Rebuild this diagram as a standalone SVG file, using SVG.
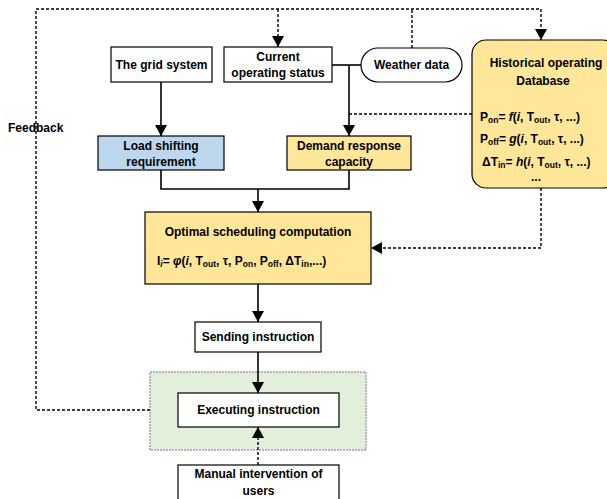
<svg xmlns="http://www.w3.org/2000/svg" width="607" height="499" viewBox="0 0 607 499">
<defs>
<marker id="arr" markerUnits="userSpaceOnUse" markerWidth="12" markerHeight="12" refX="11" refY="6" orient="auto"><path d="M0,0 L11,6 L0,12 z" fill="#000"/></marker>
<style>
text{font-family:"Liberation Sans",Arial,sans-serif;font-weight:bold;font-size:12px;fill:#000}
.c{text-anchor:middle}
.sub{font-size:8.5px}
.it{font-style:italic}
.box{stroke:#000;stroke-width:1.2}
.solid{fill:none;stroke:#000;stroke-width:1.6}
.dash{fill:none;stroke:#000;stroke-width:1.4;stroke-dasharray:3 2}
</style>
</defs>
<rect width="607" height="499" fill="#fff"/>
<g id="feedback-container">
<rect x="150" y="372" width="216" height="78" fill="#E2EFDA" stroke="#777" stroke-width="1" stroke-dasharray="2 1"/>
</g>
<g id="connectors">
<path class="dash" d="M150,410 H36 V9 H541 V40" marker-end="url(#arr)"/>
<path class="dash" d="M278,9 V47" marker-end="url(#arr)"/>
<path class="dash" d="M412,48 V9"/>
<path class="dash" d="M472,114 H349"/>
<path class="dash" d="M541,188 V248 H371" marker-end="url(#arr)"/>
<path class="dash" d="M258,465 V427" marker-end="url(#arr)"/>
<path class="solid" d="M161,82 V136" marker-end="url(#arr)"/>
<path class="solid" d="M332,65 H361"/>
<path class="solid" d="M349,65 V136" marker-end="url(#arr)"/>
<path class="solid" d="M161,170 V189 H349 V170"/>
<path class="solid" d="M258,189 V212" marker-end="url(#arr)"/>
<path class="solid" d="M258,284 V322" marker-end="url(#arr)"/>
<path class="solid" d="M258,352 V393" marker-end="url(#arr)"/>
</g>
<text x="8" y="132">Feedback</text>
<g id="grid-system">
<rect class="box" x="111" y="47" width="101" height="35" fill="#fff"/>
<text class="c" x="161.5" y="69">The grid system</text>
</g>
<g id="current-status">
<rect class="box" x="224" y="47" width="108" height="35" fill="#fff"/>
<text class="c" x="278" y="61">Current</text>
<text class="c" x="278" y="77">operating status</text>
</g>
<g id="weather">
<rect class="box" x="361" y="48" width="101" height="34" rx="17" fill="#fff"/>
<text class="c" x="411.5" y="69">Weather data</text>
</g>
<g id="database">
<rect class="box" x="472" y="40" width="145" height="148" rx="14" fill="#FFE699"/>
<text class="c" x="546" y="67">Historical operating</text>
<text class="c" x="543" y="85">Database</text>
<text x="480" y="121">P<tspan class="sub" dy="2">on</tspan><tspan dy="-2">= </tspan><tspan class="it">f</tspan>(<tspan class="it">i</tspan>, T<tspan class="sub" dy="2">out</tspan><tspan dy="-2">, τ, ...)</tspan></text>
<text x="480" y="143">P<tspan class="sub" dy="2">off</tspan><tspan dy="-2">= </tspan><tspan class="it">g</tspan>(<tspan class="it">i</tspan>, T<tspan class="sub" dy="2">out</tspan><tspan dy="-2">, τ, ...)</tspan></text>
<text x="482" y="166">ΔT<tspan class="sub" dy="2">in</tspan><tspan dy="-2">= </tspan><tspan class="it">h</tspan>(<tspan class="it">i</tspan>, T<tspan class="sub" dy="2">out</tspan><tspan dy="-2">, τ, ...)</tspan></text>
<text class="c" x="536" y="181">...</text>
</g>
<g id="load-shifting">
<rect class="box" x="98" y="136" width="126" height="34" fill="#BDD7EE"/>
<text class="c" x="161" y="150">Load shifting</text>
<text class="c" x="161" y="166">requirement</text>
</g>
<g id="demand-response">
<rect class="box" x="287" y="136" width="124" height="34" fill="#FFE699"/>
<text class="c" x="349" y="150">Demand response</text>
<text class="c" x="349" y="166">capacity</text>
</g>
<g id="optimal">
<rect class="box" x="145" y="212" width="226" height="72" fill="#FFE699"/>
<text class="c" x="258" y="236">Optimal scheduling computation</text>
<text x="157" y="265">I<tspan class="sub it" dy="2">i</tspan><tspan dy="-2">= </tspan><tspan class="it">φ</tspan>(<tspan class="it">i</tspan>, T<tspan class="sub" dy="2">out</tspan><tspan dy="-2">, τ, P</tspan><tspan class="sub" dy="2">on</tspan><tspan dy="-2">, P</tspan><tspan class="sub" dy="2">off</tspan><tspan dy="-2">,  ΔT</tspan><tspan class="sub" dy="2">in</tspan><tspan dy="-2">,...)</tspan></text>
</g>
<g id="sending">
<rect class="box" x="195" y="322" width="126" height="30" fill="#fff"/>
<text class="c" x="258" y="341">Sending instruction</text>
</g>
<g id="executing">
<rect class="box" x="178" y="393" width="161" height="34" fill="#fff"/>
<text class="c" x="258.5" y="414">Executing instruction</text>
</g>
<g id="manual">
<rect class="box" x="178" y="465" width="161" height="40" fill="#fff"/>
<text class="c" x="258.5" y="478">Manual intervention of</text>
<text class="c" x="258.5" y="495">users</text>
</g>
</svg>
